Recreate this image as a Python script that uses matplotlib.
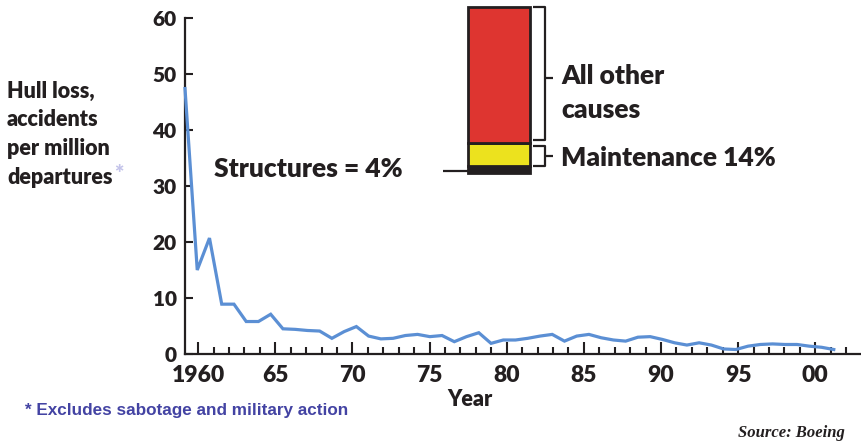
import numpy as np
import matplotlib
matplotlib.use("Agg")
import matplotlib.pyplot as plt
from matplotlib.ticker import MultipleLocator

plt.rcParams['font.family'] = ['Lato', 'DejaVu Sans']

# Hull-loss accident rate (per million departures), one reading per year of record
rate = [47.4, 15.0, 20.7, 8.9, 8.9, 5.8, 5.8, 7.1, 4.5, 4.4,
        4.2, 4.1, 2.8, 4.0, 4.9, 3.2, 2.7, 2.8, 3.3, 3.5,
        3.1, 3.3, 2.2, 3.1, 3.8, 1.9, 2.5, 2.5, 2.8, 3.2,
        3.5, 2.3, 3.2, 3.5, 2.9, 2.5, 2.3, 3.0, 3.1, 2.6,
        2.0, 1.6, 2.0, 1.6, 0.9, 0.8, 1.4, 1.7, 1.8, 1.7,
        1.7, 1.4, 1.2, 0.8]
first_year, last_year = 1959.15, 2001.2

tick_years = [1960, 1965, 1970, 1975, 1980, 1985, 1990, 1995, 2000]
tick_labels = ['1960', '65', '70', '75', '80', '85', '90', '95', '00']

# Share of accidents by cause (stacked bar, bottom to top)
causes = ['Structures', 'Maintenance', 'All other causes']
shares = [4, 14, 82]
cause_colors = ['#231f20', '#ece21e', '#de3530']

ylabel_lines = ['Hull loss,', 'accidents', 'per million', 'departures']

ink = '#231f20'
BOLD = 'heavy'
W, H = 862, 445
fig = plt.figure(figsize=(W / 100, H / 100), dpi=100)

def fig_box(x0, y0, x1, y1):
    return [x0 / W, 1 - y1 / H, (x1 - x0) / W, (y1 - y0) / H]

ax = fig.add_axes(fig_box(185, 18, 860, 354))
x = np.linspace(first_year, last_year, len(rate))
ax.plot(x, rate, color='#5b8fd4', lw=2.3, solid_joinstyle='miter', clip_on=False, zorder=3)

ax.set_xlim(1959.15, 2002.9)
ax.set_ylim(0, 60)
for s in ['top', 'right']:
    ax.spines[s].set_visible(False)
for s in ['left', 'bottom']:
    ax.spines[s].set_linewidth(1.6)
    ax.spines[s].set_color(ink)

ax.yaxis.set_major_locator(MultipleLocator(10))
ax.set_xticks(tick_years)
ax.set_xticklabels(tick_labels)
ax.xaxis.set_minor_locator(MultipleLocator(1))
ax.tick_params(axis='y', direction='in', length=6, width=1.5, color=ink,
               labelsize=15, pad=6, labelcolor=ink)
ax.tick_params(axis='x', which='major', direction='in', length=8.5, width=1.5,
               color=ink, labelsize=16.5, pad=8, labelcolor=ink)
ax.tick_params(axis='x', which='minor', direction='in', length=5, width=1.5, color=ink)
for lab in ax.get_xticklabels() + ax.get_yticklabels():
    lab.set_fontweight(BOLD)

ax.text(1961.0, 33.0, 'Structures = 4%', fontsize=19, fontweight=BOLD,
        color=ink, ha='left', va='center')

# Stacked cause bar with brackets
bx = fig.add_axes(fig_box(468, 7, 530, 173))
bx.set_xlim(0, 1)
bx.set_ylim(0, 100)
bx.axis('off')
bottom = 0
for share, col in zip(shares, cause_colors):
    bx.bar(0.5, share, width=1, bottom=bottom, color=col, edgecolor=ink,
           linewidth=2, clip_on=False)
    bottom += share

lk = dict(color=ink, lw=1.6, clip_on=False, solid_capstyle='butt')
bx.plot([-0.4, 0], [1, 1], **lk)
b_lo, b_hi = shares[0], shares[0] + shares[1]
for y0, y1 in [(b_lo + 0.5, b_hi - 2.0), (b_hi + 2.0, 100)]:
    bx.plot([1.05, 1.24, 1.24, 1.05], [y0, y0, y1, y1], **lk)
bx.plot([1.24, 1.37], [(b_lo + b_hi) / 2 - 0.5] * 2, **lk)
bx.plot([1.24, 1.37], [57, 57], **lk)

bx.text(1.5, 58.5, 'All other', fontsize=19, fontweight=BOLD, color=ink,
        ha='left', va='center')
bx.text(1.5, 38.0, 'causes', fontsize=19, fontweight=BOLD, color=ink,
        ha='left', va='center')
bx.text(1.5, 9.0, 'Maintenance 14%', fontsize=19, fontweight=BOLD, color=ink,
        ha='left', va='center')

# Vertical-axis title, one line at a time, footnote star after the last line
for i, line in enumerate(ylabel_lines):
    t = fig.text(7 / W, 1 - (98 + 28.5 * i) / H, line, fontsize=15.5,
                 fontweight=BOLD, color=ink, ha='left', va='baseline')
fig.canvas.draw()
ax.annotate('*', xy=(1, 0.6), xycoords=t, xytext=(1, 0), textcoords='offset points',
            fontsize=16, fontweight=BOLD, color='#c4c4ea', ha='left', va='center')

fig.text(470 / W, 1 - 400 / H, 'Year', fontsize=15.5, fontweight=BOLD, color=ink,
         ha='center', va='center')
fig.text(25 / W, 1 - 411 / H, '* Excludes sabotage and military action',
         family=['Liberation Sans'], fontsize=12.3, fontweight='bold',
         color='#4343a3', ha='left', va='center')
fig.text(845 / W, 1 - 433 / H, 'Source: Boeing', family=['Liberation Serif'],
         fontsize=12, style='italic', fontweight='bold', color=ink,
         ha='right', va='center')

fig.savefig('out.png', dpi=100, facecolor='white')
